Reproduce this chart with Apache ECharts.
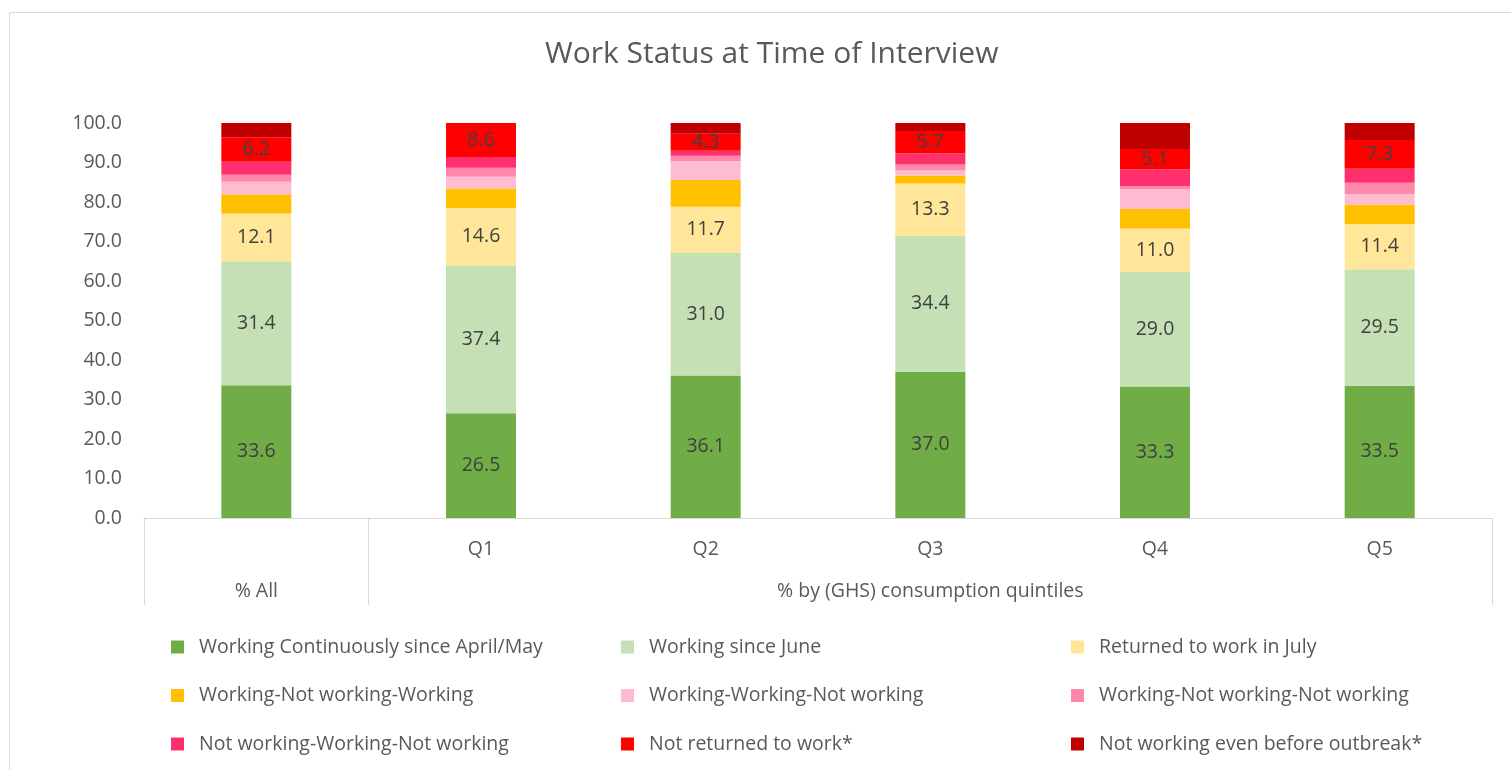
<!DOCTYPE html>
<html>
<head>
<meta charset="utf-8">
<script src="https://cdn.jsdelivr.net/npm/echarts@6/dist/echarts.min.js"></script>
<style>
  html, body { margin: 0; padding: 0; background: #fff; }
  #main { width: 1511px; height: 770px; }
</style>
</head>
<body>
<div id="main"></div>
<script>
let myChart = echarts.init(document.getElementById('main'));

// categories
let quintiles = ['', 'Q1', 'Q2', 'Q3', 'Q4', 'Q5'];
let groupLabels = ['% All', '% by (GHS) consumption quintiles'];
let groupSpans = [1, 5];

let seriesNames = [
    'Working Continuously since April/May',
    'Working since June',
    'Returned to work in July',
    'Working-Not working-Working',
    'Working-Working-Not working',
    'Working-Not working-Not working',
    'Not working-Working-Not working',
    'Not returned to work*',
    'Not working even before outbreak*'
];

// values (%), bottom to top
let workingContinuously = [33.6, 26.5, 36.1, 37.0, 33.3, 33.5];
let workingSinceJune    = [31.4, 37.4, 31.0, 34.4, 29.0, 29.5];
let returnedJuly        = [12.1, 14.6, 11.7, 13.3, 11.0, 11.4];
let wNwW                = [4.8, 4.9, 6.8, 2.0, 4.9, 4.9];
let wWNw                = [3.2, 3.0, 4.8, 1.3, 5.0, 2.7];
let wNwNw               = [1.8, 2.3, 1.3, 1.5, 0.8, 2.9];
let nwWNw               = [3.3, 2.7, 1.3, 2.8, 4.3, 3.5];
let notReturned         = [6.2, 8.6, 4.3, 5.7, 5.1, 7.3];
let notWorkingBefore    = [3.6, 0.0, 2.7, 2.0, 6.6, 4.3];

let allValues = [workingContinuously, workingSinceJune, returnedJuly, wNwW, wWNw,
                 wNwNw, nwWNw, notReturned, notWorkingBefore];
let colors = ['#70AD47', '#C5E0B4', '#FFE699', '#FFC000', '#FFBCD1',
              '#FF88AA', '#FF2F6E', '#FF0000', '#C00000'];
let labelled = [true, true, true, false, false, false, false, true, false];

// group tick positions / label centres
let groupTicks = [0];
let groupCentres = [];
groupSpans.forEach(function (s, i) {
    let start = groupTicks[groupTicks.length - 1];
    groupCentres.push(start + s / 2);
    groupTicks.push(start + s);
});

let textColor = '#595959';
let fontFam = '"Open Sans", "Noto Sans", sans-serif';
let fs = 19.5;

let series = allValues.map(function (vals, i) {
    return {
        name: seriesNames[i],
        type: 'bar',
        stack: 'total',
        barWidth: 70,
        data: vals,
        itemStyle: { color: colors[i] },
        label: {
            show: labelled[i],
            position: 'inside',
            color: '#404040',
            fontSize: fs,
            fontFamily: fontFam,
            formatter: function (p) { return p.value.toFixed(1); }
        },
        emphasis: { disabled: true }
    };
});

function legendCol(idx, left) {
    return {
        orient: 'vertical',
        left: left,
        top: 632,
        padding: 5,
        itemWidth: 13,
        itemHeight: 13,
        itemGap: 28.5,
        icon: 'rect',
        selectedMode: false,
        data: idx.map(function (k) { return seriesNames[k]; }),
        textStyle: {
            color: textColor,
            fontSize: fs,
            fontFamily: fontFam,
            lineHeight: 20,
            padding: [0, 0, 0, 10]
        }
    };
}

let option = {
    animation: false,
    title: {
        text: 'Work Status at Time of Interview',
        left: 540,
        top: 34,
        textStyle: {
            color: textColor,
            fontSize: 30,
            fontWeight: 'normal',
            fontFamily: fontFam
        }
    },
    graphic: [{
        type: 'rect',
        shape: { x: 9.5, y: 12.5, width: 1700, height: 900 },
        style: { fill: 'none', stroke: '#D9D9D9', lineWidth: 1 },
        silent: true,
        z: -10
    }],
    legend: [legendCol([0, 3, 6], 166), legendCol([1, 4, 7], 616), legendCol([2, 5, 8], 1066)],
    grid: { left: 144, right: 19, top: 123, bottom: 252 },
    xAxis: [{
        type: 'category',
        data: quintiles,
        axisLine: { lineStyle: { color: '#D9D9D9', width: 1 } },
        axisTick: { show: false },
        axisLabel: {
            color: textColor,
            fontSize: fs,
            fontFamily: fontFam,
            margin: 21
        }
    }, {
        type: 'value',
        position: 'bottom',
        min: 0,
        max: quintiles.length,
        axisLine: { show: false },
        splitLine: { show: false },
        axisTick: {
            show: true,
            length: 87,
            customValues: groupTicks,
            lineStyle: { color: '#D9D9D9', width: 1 }
        },
        axisLabel: {
            show: true,
            customValues: groupCentres,
            color: textColor,
            fontSize: fs,
            fontFamily: fontFam,
            margin: 63,
            formatter: function (v) {
                let i = groupCentres.indexOf(v);
                return i >= 0 ? groupLabels[i] : '';
            }
        }
    }],
    yAxis: {
        type: 'value',
        min: 0,
        max: 100,
        interval: 10,
        axisLine: { show: false },
        axisTick: { show: false },
        splitLine: { show: false },
        axisLabel: {
            color: textColor,
            fontSize: fs,
            fontFamily: fontFam,
            margin: 22,
            formatter: function (v) { return v.toFixed(1); }
        }
    },
    series: series
};

myChart.setOption(option);
</script>
</body>
</html>
